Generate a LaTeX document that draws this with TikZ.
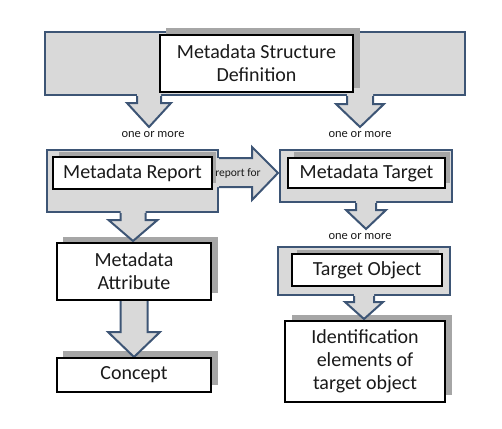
\documentclass[tikz,border=0pt]{standalone}
\usepackage{fontspec}
\setmainfont{Carlito}
\definecolor{bfill}{HTML}{D9D9D9}
\definecolor{bline}{HTML}{3D5575}
\definecolor{shad}{HTML}{A6A6A6}
\definecolor{txt}{HTML}{1A1A1A}
\tikzset{
  gbox/.style={draw=bline, line width=2pt, fill=bfill, inner sep=0pt},
  shadowbox/.style={fill=shad, draw=none, inner sep=0pt},
  wbox/.style={draw=black, line width=1.5pt, fill=white, align=center, inner sep=0pt, text=txt, font=\fontsize{20}{23}\selectfont},
  lbl/.style={font=\fontsize{12.5}{14}\selectfont, inner sep=0pt, text=txt},
  arrfill/.style={fill=bfill, draw=none},
  arrline/.style={draw=bline, line width=2pt, line join=miter},
}
% x center, y top, y head start, y tip, shaft half, head half
\newcommand\dnarr[6]{%
  \fill[arrfill] (#1-#5,#2-1.5) -- (#1-#5,#3) -- (#1-#6,#3) -- (#1,#4) -- (#1+#6,#3) -- (#1+#5,#3) -- (#1+#5,#2-1.5) -- cycle;
  \draw[arrline] (#1-#5,#2+1) -- (#1-#5,#3) -- (#1-#6,#3) -- (#1,#4) -- (#1+#6,#3) -- (#1+#5,#3) -- (#1+#5,#2+1);}
\begin{document}
\begin{tikzpicture}[x=1pt,y=-1pt]
\useasboundingbox (0,0) rectangle (502,428);
% top structure box
\node[gbox, minimum width=420pt, minimum height=63pt] (top) at (255,63.5) {};
\node[shadowbox, minimum width=194pt, minimum height=60pt] (msdsh) at (263,58) {};
% outer grouping boxes
\node[gbox, minimum width=171pt, minimum height=62pt] (mrout) at (132.5,181) {};
\node[gbox, minimum width=172pt, minimum height=52pt] (mtout) at (366,176) {};
\node[gbox, minimum width=172pt, minimum height=48pt] (toout) at (364,271) {};
% shadows
\node[shadowbox, minimum width=157pt, minimum height=31pt] (mrsh) at (137.5,167.5) {};
\node[shadowbox, minimum width=156pt, minimum height=31pt] (mtsh) at (372,167.5) {};
\node[shadowbox, minimum width=142pt, minimum height=30pt] (tosh) at (368,265) {};
\node[shadowbox, minimum width=155pt, minimum height=56pt] (mash) at (140.5,265) {};
\node[shadowbox, minimum width=155pt, minimum height=34pt] (cosh) at (140.5,368) {};
\node[shadowbox, minimum width=160pt, minimum height=80pt] (idsh) at (372,355) {};
% block arrows
\dnarr{149}{95}{103}{127}{12}{22}
\dnarr{360}{95}{104}{127}{13}{24}
\dnarr{133}{212}{220}{241}{12.5}{24.5}
\dnarr{366}{202}{210}{229}{10}{20}
\dnarr{134}{300}{332}{357}{13.5}{26}
\dnarr{364}{295}{302}{319}{10}{19}
\fill[arrfill] (216.5,158) -- (252,158) -- (252,147) -- (278,173) -- (252,200) -- (252,187) -- (216.5,187) -- cycle;
\draw[arrline] (219,158) -- (252,158) -- (252,147) -- (278,173) -- (252,200) -- (252,187) -- (219,187);
\node[font=\fontsize{11.5}{13}\selectfont, inner sep=0pt, text=txt] (rf) at (238,173) {report for};
% white boxes
\node[wbox, minimum width=193pt, minimum height=57pt] (msd) at (256.5,63.5) {Metadata Structure\\Definition};
\node[wbox, minimum width=159pt, minimum height=32pt] (mr) at (132.5,173) {Metadata Report};
\node[wbox, minimum width=157pt, minimum height=30pt] (mt) at (366.5,173) {Metadata Target};
\node[wbox, minimum width=154pt, minimum height=57pt] (ma) at (134,271.5) {Metadata\\Attribute};
\node[wbox, minimum width=154pt, minimum height=34pt] (co) at (134,375) {Concept};
\node[wbox, minimum width=150pt, minimum height=32pt] (to) at (367,270) {Target Object};
\node[wbox, minimum width=160pt, minimum height=81pt] (id) at (365,361.5) {Identification\\elements of\\target object};
% labels
\node[lbl] (l1) at (153,135) {one or more};
\node[lbl] (l2) at (360,135) {one or more};
\node[lbl] (l3) at (360,237) {one or more};
\end{tikzpicture}
\end{document}
